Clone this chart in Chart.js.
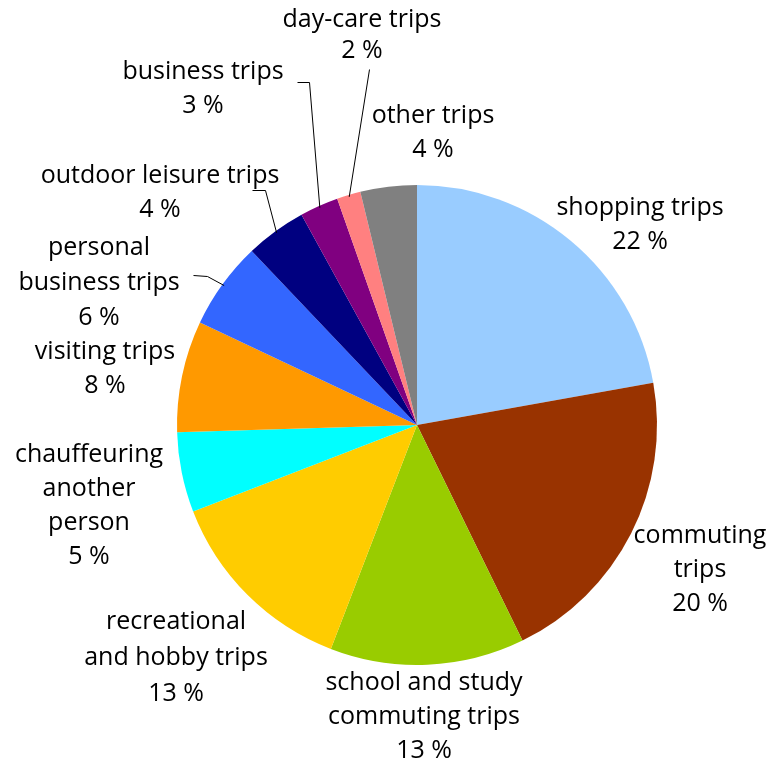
<!DOCTYPE html>
<html>
<head>
<meta charset="utf-8">
<script src="https://cdn.jsdelivr.net/npm/chart.js@4/dist/chart.umd.min.js"></script>
<style>
  html, body { margin: 0; padding: 0; background: #fff; }
  .chart-wrap { width: 769px; height: 763px; }
</style>
</head>
<body>
<div class="chart-wrap"><canvas id="tripChart" width="769" height="763"></canvas></div>
<script>
// trip purposes, clockwise from 12 o'clock
const categories = [
  ['shopping trips'],
  ['commuting', 'trips'],
  ['school and study', 'commuting trips'],
  ['recreational', 'and hobby trips'],
  ['chauffeuring', 'another', 'person'],
  ['visiting trips'],
  ['personal', 'business trips'],
  ['outdoor leisure trips'],
  ['business trips'],
  ['day-care trips'],
  ['other trips']
];
const shares = [22.2, 20.6, 13.1, 13.3, 5.4, 7.5, 5.9, 4.1, 2.6, 1.6, 3.8];
const pctLabels = ['22 %', '20 %', '13 %', '13 %', '5 %', '8 %', '6 %', '4 %', '3 %', '2 %', '4 %'];
const colors = ['#99CCFF', '#993300', '#99CC00', '#FFCC00', '#00FFFF', '#FF9900',
                '#3366FF', '#000080', '#800080', '#FF8080', '#808080'];

// where each label block sits: centre x, first line centre y, line step
const labelLayout = [
  { x: 640, y: 208, step: 34 },
  { x: 700, y: 536, step: 34 },
  { x: 424, y: 683, step: 34 },
  { x: 176, y: 622, step: 36 },
  { x: 89,  y: 455, step: 34 },
  { x: 105, y: 352, step: 34 },
  { x: 99,  y: 248, step: 35 },
  { x: 160, y: 176, step: 34 },
  { x: 203, y: 72,  step: 34 },
  { x: 362, y: 20,  step: 31 },
  { x: 433, y: 116, step: 34 }
];
// leader lines: start point near the label, optional elbow, then to the slice rim
const leaders = {
  6: [[193, 275], [207, 276]],
  7: [[252, 190], [265, 190]],
  8: [[297, 82], [309, 82]],
  9: [[369, 69]]
};

const labelPlugin = {
  id: 'sliceLabels',
  afterDraw(chart) {
    const ctx = chart.ctx;
    const arcs = chart.getDatasetMeta(0).data;
    ctx.save();
    ctx.strokeStyle = '#000';
    ctx.lineWidth = 1;
    Object.keys(leaders).forEach(k => {
      const a = arcs[k];
      const mid = (a.startAngle + a.endAngle) / 2;
      const ex = a.x + Math.cos(mid) * (a.outerRadius - 2);
      const ey = a.y + Math.sin(mid) * (a.outerRadius - 2);
      const pts = leaders[k];
      ctx.beginPath();
      ctx.moveTo(pts[0][0] + 0.5, pts[0][1] + 0.5);
      for (let i = 1; i < pts.length; i++) ctx.lineTo(pts[i][0] + 0.5, pts[i][1] + 0.5);
      ctx.lineTo(ex, ey);
      ctx.stroke();
    });
    ctx.fillStyle = '#000';
    ctx.font = '25px "Open Sans", Lato, sans-serif';
    ctx.textAlign = 'center';
    ctx.textBaseline = 'middle';
    categories.forEach((lines, i) => {
      const p = labelLayout[i];
      const all = lines.concat([pctLabels[i]]);
      all.forEach((t, j) => ctx.fillText(t, p.x, p.y + j * p.step));
    });
    ctx.restore();
  }
};

new Chart(document.getElementById('tripChart'), {
  type: 'pie',
  data: {
    labels: categories.map(c => c.join(' ')),
    datasets: [{
      data: shares,
      backgroundColor: colors,
      borderWidth: 0
    }]
  },
  options: {
    responsive: false,
    animation: false,
    layout: { padding: { left: 177, right: 112, top: 185, bottom: 98 } },
    plugins: {
      legend: { display: false },
      tooltip: { enabled: false }
    }
  },
  plugins: [labelPlugin]
});
</script>
</body>
</html>
